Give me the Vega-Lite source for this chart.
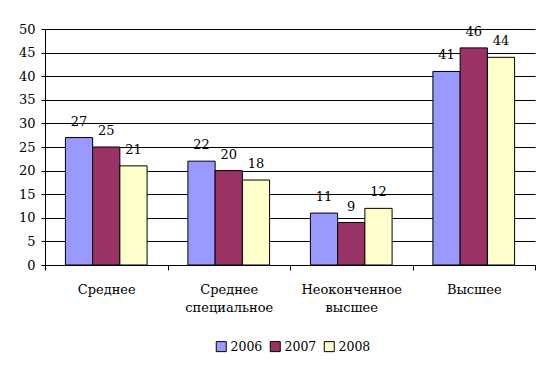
{
  "$schema": "https://vega.github.io/schema/vega-lite/v6.json",
  "width": 490,
  "height": 236,
  "autosize": "none",
  "padding": {"left": 45, "top": 29, "right": 16, "bottom": 103},
  "background": "white",
  "config": {
    "font": "DejaVu Serif",
    "view": {"stroke": null},
    "axis": {"labelFont": "DejaVu Serif", "labelColor": "black", "labelFontSize": 13, "domainColor": "black", "tickColor": "black"},
    "legend": {"labelFont": "DejaVu Serif"},
    "text": {"font": "DejaVu Serif"}
  },
  "data": {
    "values": [
      {"cat": "Среднее", "year": "2006", "v": 27},
      {"cat": "Среднее", "year": "2007", "v": 25},
      {"cat": "Среднее", "year": "2008", "v": 21},
      {"cat": "Среднее специальное", "year": "2006", "v": 22},
      {"cat": "Среднее специальное", "year": "2007", "v": 20},
      {"cat": "Среднее специальное", "year": "2008", "v": 18},
      {"cat": "Неоконченное высшее", "year": "2006", "v": 11},
      {"cat": "Неоконченное высшее", "year": "2007", "v": 9},
      {"cat": "Неоконченное высшее", "year": "2008", "v": 12},
      {"cat": "Высшее", "year": "2006", "v": 41},
      {"cat": "Высшее", "year": "2007", "v": 46},
      {"cat": "Высшее", "year": "2008", "v": 44}
    ]
  },
  "encoding": {
    "x": {
      "field": "cat", "type": "nominal", "sort": null,
      "scale": {"paddingInner": 0, "paddingOuter": 0},
      "axis": {"title": null, "labelAngle": 0, "tickBand": "extent", "tickSize": 5, "labelPadding": 13, "labelExpr": "split(datum.label, ' ')", "labelLineHeight": 18, "labelBaseline": "top", "domainColor": "black"}
    },
    "xOffset": {"field": "year", "type": "nominal", "scale": {"paddingInner": 0, "paddingOuter": 0.75}},
    "y": {
      "field": "v", "type": "quantitative",
      "scale": {"domain": [0, 50], "nice": false},
      "axis": {"title": null, "values": [0,5,10,15,20,25,30,35,40,45,50], "tickSize": 4, "labelPadding": 6, "gridColor": "black", "gridOpacity": 1, "gridWidth": 1, "grid": true}
    }
  },
  "layer": [
    {
      "mark": {"type": "bar", "stroke": "black", "strokeWidth": 1},
      "encoding": {
        "color": {
          "field": "year", "type": "nominal",
          "scale": {"domain": ["2006", "2007", "2008"], "range": ["#9999FF", "#993366", "#FFFFCC"]},
          "legend": {"title": null, "orient": "none", "direction": "horizontal", "legendX": 170, "legendY": 311, "symbolType": "square", "symbolSize": 100, "symbolStrokeColor": "black", "symbolStrokeWidth": 1, "symbolOpacity": 1, "labelFontSize": 12.5, "labelColor": "black", "columnPadding": 5, "labelOffset": 3, "padding": 0}
        }
      }
    },
    {
      "mark": {"type": "text", "baseline": "bottom", "dy": -9, "fontSize": 13, "color": "black"},
      "encoding": {"text": {"field": "v", "type": "quantitative"}}
    }
  ]
}
